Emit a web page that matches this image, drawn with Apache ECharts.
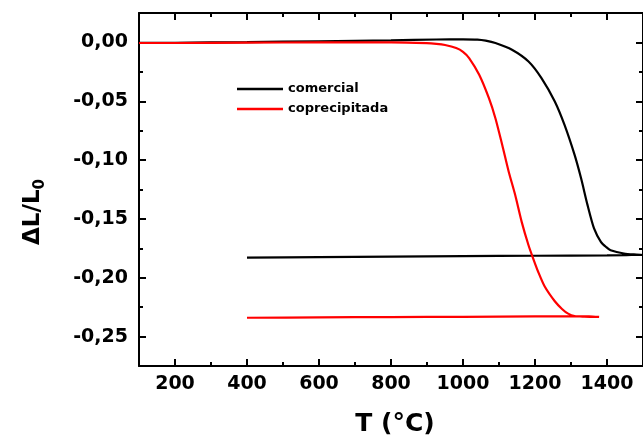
<!DOCTYPE html>
<html>
<head>
<meta charset="utf-8">
<script src="https://cdn.jsdelivr.net/npm/echarts@6/dist/echarts.min.js"></script>
<style>
html,body{margin:0;padding:0;background:#fff;}
#chart{width:643px;height:444px;}
</style>
</head>
<body>
<div id="chart"></div>
<script>
// Data (T in °C, ΔL/L0)
var comercialT = [100, 200, 400, 600, 800, 926, 1000, 1040, 1063, 1090, 1136, 1182, 1218, 1255, 1282, 1310, 1328, 1346, 1364, 1383, 1398, 1410, 1447, 1482, 1500,
                  1400, 1200, 1000, 800, 600, 400];
var comercialDL = [-0.0004, -0.0003, 0.0003, 0.0010, 0.0018, 0.0025, 0.0026, 0.0024, 0.0015, -0.0005, -0.0062, -0.0162, -0.0303, -0.0502, -0.0701, -0.0956, -0.1155, -0.1383, -0.1581, -0.1695, -0.1740, -0.1766, -0.1794, -0.1803, -0.1806,
                   -0.1810, -0.1813, -0.1816, -0.1820, -0.1824, -0.1829];
var coprecT = [100, 200, 400, 600, 800, 899, 926, 950, 981, 1000, 1017, 1045, 1072, 1090, 1109, 1127, 1145, 1163, 1182, 1195, 1209, 1227, 1255, 1275, 1292, 1310, 1337, 1378,
               1350, 1200, 1000, 800, 600, 400];
var coprecDL = [-0.0005, -0.0005, -0.0002, 0.0000, 0.0000, -0.0006, -0.0012, -0.0022, -0.0048, -0.0080, -0.0133, -0.0275, -0.0474, -0.0644, -0.0872, -0.1099, -0.1297, -0.1525, -0.1724, -0.1837, -0.1951, -0.2075, -0.2200, -0.2265, -0.2305, -0.2325, -0.2330, -0.2333,
                -0.2327, -0.2329, -0.2332, -0.2334, -0.2337, -0.2340];
var seriesNames = ['comercial', 'coprecipitada'];
var xMajorTicks = [200, 400, 600, 800, 1000, 1200, 1400];
var xMinorTicks = [300, 500, 700, 900, 1100, 1300];
var yMajorTicks = [0, -0.05, -0.10, -0.15, -0.20, -0.25];
var yMinorTicks = [-0.025, -0.075, -0.125, -0.175, -0.225];

function pairs(xs, ys) { return xs.map(function (x, i) { return [x, ys[i]]; }); }

var FONT = 'DejaVu Sans';
var chart = echarts.init(document.getElementById('chart'), null, {renderer: 'canvas'});

function xAx(pos, ticks, len, showLine, showLabel) {
  return {
    type: 'value', position: pos, min: 100, max: 1500,
    axisLine: {show: showLine, onZero: false, lineStyle: {color: '#000', width: 2}},
    axisTick: {show: true, inside: true, length: len, customValues: ticks, lineStyle: {color: '#000', width: 2}},
    axisLabel: {show: showLabel, customValues: ticks, margin: 9, color: '#000', fontFamily: FONT, fontWeight: 'bold', fontSize: 19,
      formatter: function (v) { return String(v); }},
    splitLine: {show: false}
  };
}
function yAx(pos, ticks, len, showLine, showLabel) {
  return {
    type: 'value', position: pos, min: -0.275, max: 0.025,
    axisLine: {show: showLine, onZero: false, lineStyle: {color: '#000', width: 2}},
    axisTick: {show: true, inside: true, length: len, customValues: ticks, lineStyle: {color: '#000', width: 2}},
    axisLabel: {show: showLabel, customValues: ticks, margin: 11, color: '#000', fontFamily: FONT, fontWeight: 'bold', fontSize: 19,
      formatter: function (v) { return v.toFixed(2).replace('.', ','); }},
    splitLine: {show: false}
  };
}

var option = {
  animation: false,
  backgroundColor: '#fff',
  grid: {left: 139, top: 13, width: 511, height: 353, containLabel: false},
  xAxis: [
    xAx('bottom', xMajorTicks, 7, true, true),
    xAx('bottom', xMinorTicks, 4, false, false),
    xAx('top', xMajorTicks, 7, true, false),
    xAx('top', xMinorTicks, 4, false, false)
  ],
  yAxis: [
    yAx('left', yMajorTicks, 7, true, true),
    yAx('left', yMinorTicks, 4, false, false),
    yAx('right', yMajorTicks, 7, true, false),
    yAx('right', yMinorTicks, 4, false, false)
  ],
  legend: {
    orient: 'vertical', left: 232, top: 77, itemWidth: 46, itemHeight: 2.4, itemGap: 6, icon: 'rect',
    textStyle: {color: '#000', fontFamily: FONT, fontWeight: 'bold', fontSize: 13, lineHeight: 14},
    data: seriesNames
  },
  series: [
    {name: seriesNames[0], type: 'line', xAxisIndex: 0, yAxisIndex: 0, data: pairs(comercialT, comercialDL),
     symbol: 'none', smooth: 0.25, lineStyle: {color: '#000', width: 2.2}, itemStyle: {color: '#000'}},
    {name: seriesNames[1], type: 'line', xAxisIndex: 0, yAxisIndex: 0, data: pairs(coprecT, coprecDL),
     symbol: 'none', smooth: 0.25, lineStyle: {color: '#ff0000', width: 2.2}, itemStyle: {color: '#ff0000'}}
  ],
  graphic: [
    {type: 'text', x: 395, y: 424, style: {text: 'T (°C)', fill: '#000', font: 'bold 25px "DejaVu Sans"', textAlign: 'center', textVerticalAlign: 'middle'}},
    {type: 'text', x: 33, y: 212, rotation: Math.PI / 2,
     style: {text: '{a|ΔL/L}{b|0}', textAlign: 'center', textVerticalAlign: 'middle',
       rich: {
         a: {fill: '#000', fontFamily: FONT, fontWeight: 'bold', fontSize: 23, lineHeight: 30, verticalAlign: 'middle'},
         b: {fill: '#000', fontFamily: FONT, fontWeight: 'bold', fontSize: 15, lineHeight: 30, verticalAlign: 'bottom', padding: [10, 0, 0, 0]}
       }}}
  ]
};
chart.setOption(option);
</script>
</body>
</html>
